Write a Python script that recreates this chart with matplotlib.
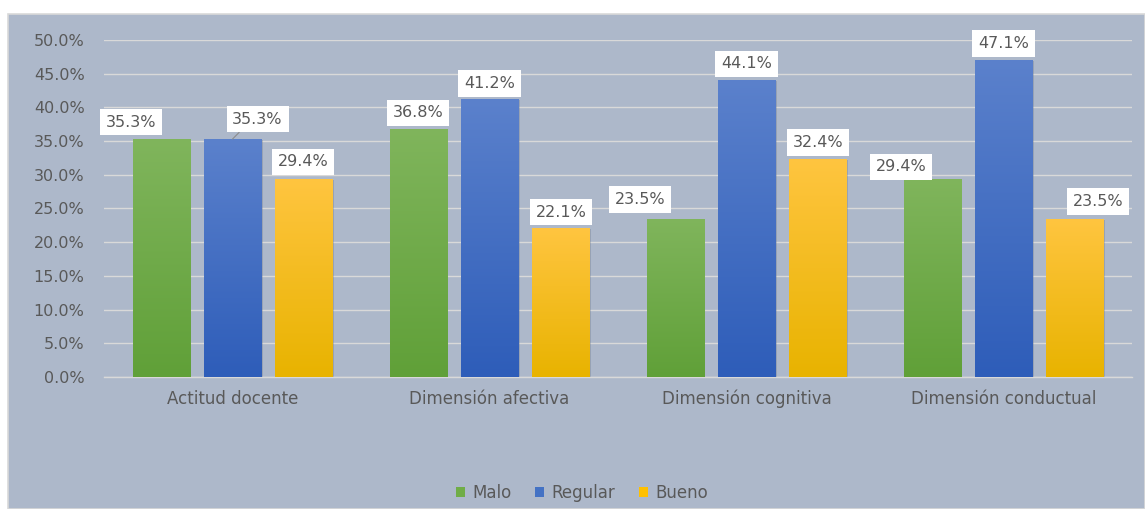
import numpy as np
import matplotlib
matplotlib.use("Agg")
import matplotlib.pyplot as plt
from matplotlib.patches import Rectangle, Patch
from matplotlib.colors import LinearSegmentedColormap
from matplotlib.ticker import FuncFormatter

categorias = ["Actitud docente", "Dimensión afectiva", "Dimensión cognitiva", "Dimensión conductual"]
series = ["Malo", "Regular", "Bueno"]
malo = [35.3, 36.8, 23.5, 29.4]
regular = [35.3, 41.2, 44.1, 47.1]
bueno = [29.4, 22.1, 32.4, 23.5]

# color de arriba / abajo del degradado, y color del cuadro de leyenda
colores = {
    "Malo": ("#80B55C", "#60A038", "#70AD47"),
    "Regular": ("#5B81CC", "#2E5DB9", "#4472C4"),
    "Bueno": ("#FFC540", "#E8B300", "#FFC000"),
}

# desplazamiento (px) de cada etiqueta respecto a la parte superior de la barra
despl = {
    "Malo": [(-30, 17), (0, 16), (-35, 19), (-31, 12)],
    "Regular": [(25, 20), (0, 16), (0, 16), (0, 16)],
    "Bueno": [(-1, 17), (0, 16), (0, 16), (23, 17)],
}

fondo = "#ADB8CA"
gris_txt = "#595959"
plt.rcParams["font.family"] = ["DejaVu Sans"]

fig = plt.figure(figsize=(11.45, 5.09), dpi=100)
fig.patch.set_facecolor("white")
fig.add_artist(Rectangle((8 / 1145, 0), 1 - 8 / 1145, (509 - 14) / 509,
                         transform=fig.transFigure, facecolor=fondo,
                         edgecolor="#D9D9D9", linewidth=1.2, zorder=0))

ax = fig.add_axes([104 / 1145, (509 - 377) / 509, 1028 / 1145, 337 / 509])
ax.set_facecolor("none")

x = np.arange(len(categorias))
ancho = 0.222
sep = 0.278
datos = {"Malo": malo, "Regular": regular, "Bueno": bueno}

for i, s in enumerate(series):
    arriba, abajo, _ = colores[s]
    cmap = LinearSegmentedColormap.from_list(s, [abajo, arriba])
    pos = x + (i - 1) * sep
    bars = ax.bar(pos, datos[s], ancho, color="none", edgecolor="none", zorder=3)
    for j, b in enumerate(bars):
        h = b.get_height()
        x0 = b.get_x()
        # sombra ligera
        ax.add_patch(Rectangle((x0 + 0.006, 0), ancho, h - 0.15, facecolor="#6F7B8C",
                               alpha=0.35, edgecolor="none", zorder=2))
        grad = np.linspace(0, 1, 256).reshape(-1, 1)
        im = ax.imshow(grad, cmap=cmap, origin="lower", aspect="auto",
                       extent=(x0, x0 + ancho, 0, h), zorder=3)
        im.set_clip_path(b)
        dx, dy = despl[s][j]
        kw = {}
        if s == "Regular" and j == 0:
            kw["arrowprops"] = dict(arrowstyle="-", color="#8C8C8C", lw=0.8,
                                    shrinkA=0, shrinkB=0, relpos=(0.25, 0))
        ax.annotate(f"{h:.1f}%", xy=(pos[j], h), xytext=(dx, dy),
                    textcoords="offset pixels", ha="center", va="center",
                    fontsize=11.5, color=gris_txt, zorder=5,
                    bbox=dict(boxstyle="square,pad=0.36", facecolor="white",
                              edgecolor="none"), **kw)

ax.set_xlim(-0.5, len(categorias) - 0.5)
ax.set_ylim(0, 50)
ax.set_yticks(np.arange(0, 50.1, 5))
ax.yaxis.set_major_formatter(FuncFormatter(lambda v, p: f"{v:.1f}%"))
ax.set_xticks(x)
ax.set_xticklabels(categorias, fontsize=12)
ax.tick_params(axis="both", length=0, colors=gris_txt)
ax.tick_params(axis="y", pad=14, labelsize=11.5)
ax.tick_params(axis="x", pad=9)
ax.grid(axis="y", color="#D9D9D9", linewidth=1.0, zorder=1)
ax.set_axisbelow(True)
for sp in ["top", "right", "left"]:
    ax.spines[sp].set_visible(False)
ax.spines["bottom"].set_color("#D9D9D9")
ax.spines["bottom"].set_linewidth(1.0)

handles = [Patch(facecolor=colores[s][2], edgecolor="none") for s in series]
fig.legend(handles, series, loc="center", bbox_to_anchor=(582 / 1145, 1 - 493 / 509),
           ncol=3, frameon=False, fontsize=12, labelcolor=gris_txt,
           handlelength=0.55, handleheight=0.55, handletextpad=0.45, columnspacing=1.4)

fig.savefig("out.png", dpi=100, facecolor="white")
